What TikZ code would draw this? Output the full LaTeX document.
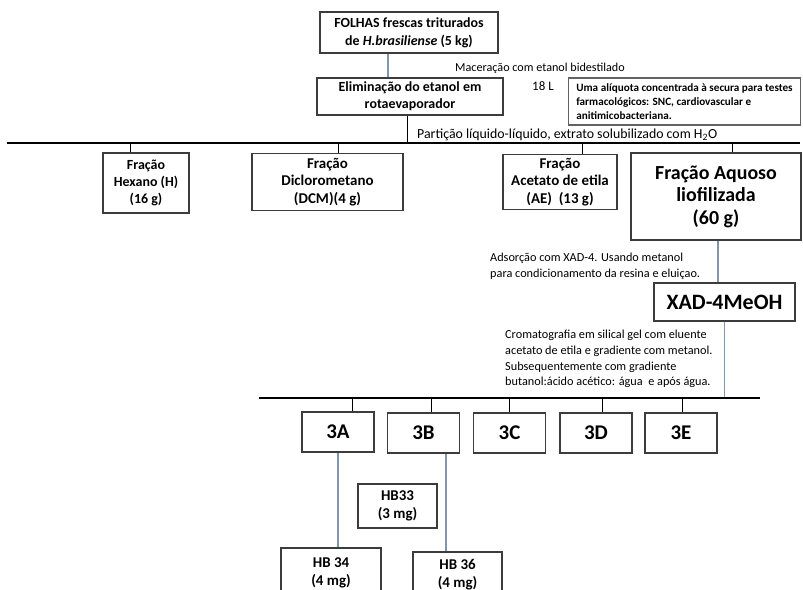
\documentclass[tikz,border=0pt]{standalone}
\usepackage{fontspec}
\setmainfont{Carlito}
\definecolor{boxc}{RGB}{60,60,60}
\definecolor{linkc}{RGB}{128,150,172}
\tikzset{
  box/.style={draw=boxc, line width=1.3bp, align=center, inner sep=0pt, font=\bfseries\fontsize{15}{17.5}\selectfont},
  bus/.style={draw=black, line width=1.3bp},
  stub/.style={draw=black, line width=1bp},
  link/.style={draw=linkc, line width=1.3bp},
  note/.style={align=left, inner sep=0pt, font=\fontsize{12.3}{15.7}\selectfont},
}
\begin{document}
\begin{tikzpicture}[x=1bp,y=-1bp]
\useasboundingbox (0,0) rectangle (803,590);
\clip (0,0) rectangle (803,590);
% top part
\node[box, minimum width=178bp, minimum height=41bp, font=\bfseries\fontsize{14}{18}\selectfont] (folhas) at (409,32.5) {FOLHAS frescas triturados\\de \textit{H.brasiliense} (5 kg)};
\node[box, minimum width=186bp, minimum height=37bp, font=\bfseries\fontsize{14}{17}\selectfont] (elim) at (410,96.5) {Eliminação do etanol em\\rotaevaporador};
\node[box, draw=boxc!80, minimum width=232bp, minimum height=47bp, align=left, font=\bfseries\fontsize{11.2}{13.8}\selectfont] (aliq) at (684.5,101.5) {Uma alíquota concentrada à secura para testes\\farmacológicos: SNC, cardiovascular e\\anitimicobacteriana.};
\node[note, anchor=west, font=\fontsize{12.2}{14}\selectfont] (macer) at (455,68) {Maceração com etanol bidestilado};
\node[note, anchor=west, font=\fontsize{13}{14}\selectfont] (litros) at (532,86) {18 L};
\node[note, anchor=west, font=\fontsize{13.9}{15}\selectfont] (partic) at (417,135) {Partição líquido-líquido, extrato solubilizado com H\textsubscript{2}O};
\coordinate (busAL) at (7,143);
\coordinate (busAR) at (800,143);
% fractions
\node[box, minimum width=86bp, minimum height=60bp, font=\bfseries\fontsize{14}{17}\selectfont] (hex) at (146,183) {Fração\\Hexano (H)\\(16 g)};
\node[box, minimum width=151bp, minimum height=57bp] (dcm) at (327.5,182) {Fração\\Diclorometano\\(DCM)(4 g)};
\node[box, minimum width=114bp, minimum height=55bp] (ae) at (560,182) {Fração\\Acetato de etila\\(AE)\ \ (13 g)};
\node[box, minimum width=170bp, minimum height=87bp, font=\bfseries\fontsize{20}{22.5}\selectfont] (aq) at (716,196.5) {Fração Aquoso\\liofilizada\\(60 g)};
\node[note, anchor=west] (adsor) at (490,266) {Adsorção com XAD-4. Usando metanol\\para condicionamento da resina e eluiçao.};
\node[box, minimum width=141bp, minimum height=38bp, font=\bfseries\fontsize{22}{24}\selectfont] (xad) at (724.5,302) {XAD-4MeOH};
\node[note, anchor=west] (croma) at (505,359) {Cromatografia em silical gel com eluente\\acetato de etila e gradiente com metanol.\\Subsequentemente com gradiente\\butanol:ácido acético: água\ \ e após água.};
\coordinate (busBL) at (259,398);
\coordinate (busBR) at (760,398);
% 3A-3E
\tikzset{sub/.style={box, minimum width=72bp, minimum height=40bp, font=\bfseries\fontsize{21}{22}\selectfont}}
\node[sub] (a3) at (338,432) {3A};
\node[sub] (b3) at (423.5,433) {3B};
\node[sub] (c3) at (509.5,433) {3C};
\node[sub] (d3) at (596,433) {3D};
\node[sub] (e3) at (681,433) {3E};
\tikzset{hb/.style={box, font=\bfseries\fontsize{15}{18}\selectfont}}
\node[hb, minimum width=79bp, minimum height=44bp] (hb33) at (397.5,506) {HB33\\(3 mg)};
\node[hb, minimum width=100bp, minimum height=50bp] (hb34) at (331,573) {HB 34\\(4 mg)};
\node[hb, minimum width=89bp, minimum height=46bp] (hb36) at (457.5,575) {HB 36\\(4 mg)};
% connectors
\draw[link] ([xshift=-21bp]folhas.south) -- ([xshift=-21bp]folhas.south |- elim.north);
\draw[stub] ([xshift=-3bp]elim.south) -- ([xshift=-3bp]elim.south |- busAL);
\draw[bus] (busAL) -- (busAR);
\draw[stub] ([xshift=-16bp]hex.north) -- ([xshift=-16bp]hex.north |- busAL);
\draw[stub] ([xshift=10.5bp]dcm.north) -- ([xshift=10.5bp]dcm.north |- busAL);
\draw[stub] ([xshift=22bp]ae.north) -- ([xshift=22bp]ae.north |- busAL);
\draw[stub] ([xshift=16bp]aq.north) -- ([xshift=16bp]aq.north |- busAL);
\draw[link] ([xshift=2bp]aq.south) -- ([xshift=2bp]aq.south |- xad.north);
\draw[link] (xad.south) -- (xad.south |- busBR);
\draw[bus] (busBL) -- (busBR);
\draw[stub] ([xshift=14bp]a3.north) -- ([xshift=14bp]a3.north |- busBL);
\draw[stub] ([xshift=7.5bp]b3.north) -- ([xshift=7.5bp]b3.north |- busBL);
\draw[stub] (c3.north) -- (c3.north |- busBL);
\draw[stub] ([xshift=6bp]d3.north) -- ([xshift=6bp]d3.north |- busBL);
\draw[stub] ([xshift=1bp]e3.north) -- ([xshift=1bp]e3.north |- busBL);
\draw[link] (a3.south) -- (a3.south |- hb34.north);
\draw[link] (hb33.north -| 407,0) -- (hb33.north -| 407,0 |- b3.south);
\draw[link] ([xshift=-11.5bp]hb36.north) -- ([xshift=-11.5bp]hb36.north |- b3.south);
\end{tikzpicture}
\end{document}
